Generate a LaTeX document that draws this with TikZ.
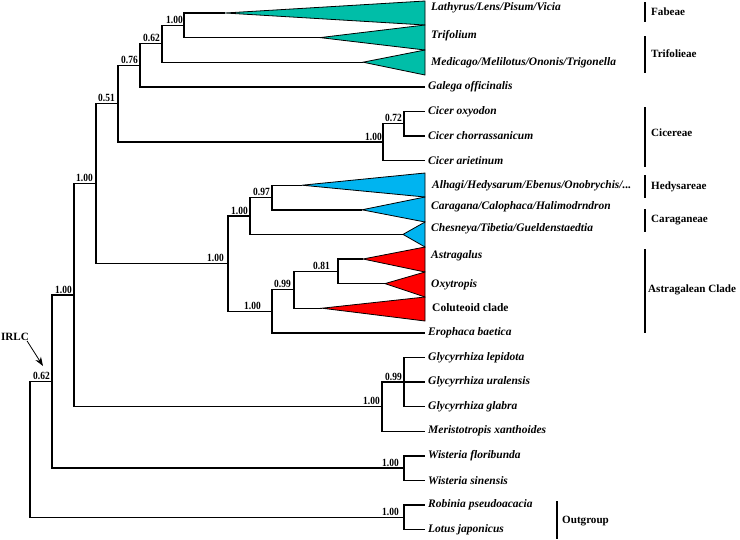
\documentclass[tikz,border=0pt]{standalone}
\usepackage{fontspec}
\setmainfont{Liberation Serif}
\newfontfamily\bootfont[FakeStretch=0.86]{Liberation Serif}
\usetikzlibrary{arrows.meta}
\definecolor{tealc}{RGB}{0,190,168}
\definecolor{bluec}{RGB}{0,180,240}
\definecolor{redc}{RGB}{255,0,0}
\begin{document}
\begin{tikzpicture}[x=1pt,y=-1pt,
  br/.style={line width=1.4pt},
  tri/.style={draw=black,line width=0.8pt,line join=miter},
  leaf/.style={anchor=west,inner sep=0pt,font=\fontsize{11.5}{13}\selectfont\bfseries\itshape},
  leafup/.style={anchor=west,inner sep=0pt,font=\fontsize{11.5}{13}\selectfont\bfseries},
  boot/.style={anchor=south east,inner sep=0pt,font=\bootfont\fontsize{11}{12}\selectfont\bfseries},
  clade/.style={anchor=west,inner sep=0pt,font=\fontsize{11.1}{13}\selectfont\bfseries},
  bar/.style={line width=1.8pt}]
\useasboundingbox (0,0) rectangle (740,539);
% internal nodes
\coordinate (root) at (30,450);
\coordinate (n52) at (52,381.6);
\coordinate (n74) at (74,295.1);
\coordinate (n96) at (96,183.65);
\coordinate (n118) at (118,103.7);
\coordinate (n140) at (140,65.3);
\coordinate (n162) at (162,43.75);
\coordinate (n184) at (184,25.3);
\coordinate (cic) at (383,142.15);
\coordinate (n404c) at (404,123.7);
\coordinate (n228) at (228,263.6);
\coordinate (n250) at (250,216);
\coordinate (n272h) at (272,197.5);
\coordinate (n272) at (272,311.3);
\coordinate (n294) at (294,289.75);
\coordinate (n338) at (338,271.3);
\coordinate (glyc) at (382,406.6);
\coordinate (n404g) at (404,382);
\coordinate (wist) at (404,468.1);
\coordinate (outg) at (404,517.3);
% triangle apices
\coordinate (afab) at (225,13);
\coordinate (atri) at (320,37.6);
\coordinate (amed) at (363,62.2);
\coordinate (ahed) at (302,185.2);
\coordinate (acar) at (362,209.8);
\coordinate (ache) at (403,234.4);
\coordinate (aast) at (363,259);
\coordinate (aoxy) at (385,283.6);
\coordinate (acol) at (322,308.2);
% triangle right corners
\coordinate (r0) at (425,1);
\coordinate (r1) at (425,25);
\coordinate (r2) at (425,50);
\coordinate (r3) at (425,75);
\coordinate (r4) at (425,173);
\coordinate (r5) at (425,197);
\coordinate (r6) at (425,222);
\coordinate (r7) at (425,247);
\coordinate (r8) at (425,272);
\coordinate (r9) at (425,297);
\coordinate (r10) at (425,321);
% leaf tips
\coordinate (lgal) at (425,86.8);
\coordinate (loxy) at (425,111.4);
\coordinate (lcho) at (425,136);
\coordinate (lari) at (425,160.6);
\coordinate (lero) at (425,332.8);
\coordinate (llep) at (425,357.4);
\coordinate (lura) at (425,382);
\coordinate (lgla) at (425,406.6);
\coordinate (lmer) at (425,431.2);
\coordinate (lflo) at (425,455.8);
\coordinate (lsin) at (425,480.4);
\coordinate (lrob) at (425,505);
\coordinate (llot) at (425,529.6);
% triangles
\filldraw[tri,fill=tealc] (afab) -- (r0) -- (r1) -- cycle;
\filldraw[tri,fill=tealc] (atri) -- (r1) -- (r2) -- cycle;
\filldraw[tri,fill=tealc] (amed) -- (r2) -- (r3) -- cycle;
\filldraw[tri,fill=bluec] (ahed) -- (r4) -- (r5) -- cycle;
\filldraw[tri,fill=bluec] (acar) -- (r5) -- (r6) -- cycle;
\filldraw[tri,fill=bluec] (ache) -- (r6) -- (r7) -- cycle;
\filldraw[tri,fill=redc] (aast) -- (r7) -- (r8) -- cycle;
\filldraw[tri,fill=redc] (aoxy) -- (r8) -- (r9) -- cycle;
\filldraw[tri,fill=redc] (acol) -- (r9) -- (r10) -- cycle;
% branches
\draw[br] (root) |- (n52);
\draw[br] (root) |- (outg);
\draw[br] (n52) |- (n74);
\draw[br] (n52) |- (wist);
\draw[br] (n74) |- (n96);
\draw[br] (n74) |- (glyc);
\draw[br] (n96) |- (n118);
\draw[br] (n96) |- (n228);
\draw[br] (n118) |- (n140);
\draw[br] (n118) |- (cic);
\draw[br] (n140) |- (n162);
\draw[br] (n140) |- (lgal);
\draw[br] (n162) |- (n184);
\draw[br] (n162) |- (amed);
\draw[br] (n184) |- (afab);
\draw[br] (n184) |- (atri);
\draw[br] (cic) |- (n404c);
\draw[br] (cic) |- (lari);
\draw[br] (n404c) |- (loxy);
\draw[br] (n404c) |- (lcho);
\draw[br] (n228) |- (n250);
\draw[br] (n228) |- (n272);
\draw[br] (n250) |- (n272h);
\draw[br] (n250) |- (ache);
\draw[br] (n272h) |- (ahed);
\draw[br] (n272h) |- (acar);
\draw[br] (n272) |- (n294);
\draw[br] (n272) |- (lero);
\draw[br] (n294) |- (n338);
\draw[br] (n294) |- (acol);
\draw[br] (n338) |- (aast);
\draw[br] (n338) |- (aoxy);
\draw[br] (glyc) |- (n404g);
\draw[br] (glyc) |- (lmer);
\draw[br] (n404g) |- (llep);
\draw[br] (n404g) |- (lura);
\draw[br] (n404g) |- (lgla);
\draw[br] (wist) |- (lflo);
\draw[br] (wist) |- (lsin);
\draw[br] (outg) |- (lrob);
\draw[br] (outg) |- (llot);
% support values
\node[boot] (b52) at ([xshift=-2pt,yshift=1.5pt]n52) {0.62};
\node[boot] (b74) at ([xshift=-2pt,yshift=1.5pt]n74) {1.00};
\node[boot] (b96) at ([xshift=-3pt,yshift=1.5pt]n96) {1.00};
\node[boot] (b118) at ([xshift=-3pt,yshift=1.5pt]n118) {0.51};
\node[boot] (b140) at ([xshift=-2pt,yshift=1.5pt]n140) {0.76};
\node[boot] (b162) at ([xshift=-2pt,yshift=1.5pt]n162) {0.62};
\node[boot] (b184) at ([xshift=-1pt,yshift=1.5pt]n184) {1.00};
\node[boot] (bcic) at ([xshift=-1pt,yshift=1.5pt]cic) {1.00};
\node[boot] (b404c) at ([xshift=-2pt,yshift=1.5pt]n404c) {0.72};
\node[boot] (b228) at ([xshift=-4pt,yshift=1.5pt]n228) {1.00};
\node[boot] (b250) at ([xshift=-2pt,yshift=1.5pt]n250) {1.00};
\node[boot] (b272h) at ([xshift=-2pt,yshift=1.5pt]n272h) {0.97};
\node[boot] (b272) at ([xshift=-11pt,yshift=1.5pt]n272) {1.00};
\node[boot] (b294) at ([xshift=-3pt,yshift=1.5pt]n294) {0.99};
\node[boot] (b338) at ([xshift=-8pt,yshift=1.5pt]n338) {0.81};
\node[boot] (bglyc) at ([xshift=-2pt,yshift=1.5pt]glyc) {1.00};
\node[boot] (b404g) at ([xshift=-2pt,yshift=1.5pt]n404g) {0.99};
\node[boot] (bwist) at ([xshift=-5pt,yshift=1.5pt]wist) {1.00};
\node[boot] (boutg) at ([xshift=-5pt,yshift=1.5pt]outg) {1.00};
% leaf labels
\node[leaf] (tfab) at (431,8) {Lathyrus/Lens/Pisum/Vicia};
\node[leaf] (ttri) at (431,36) {Trifolium};
\node[leaf] (tmed) at (431,63) {Medicago/Melilotus/Ononis/Trigonella};
\node[leaf] (tgal) at (428,86.8) {Galega officinalis};
\node[leaf] (toxy) at (428,111.4) {Cicer oxyodon};
\node[leaf] (tcho) at (428,136) {Cicer chorrassanicum};
\node[leaf] (tari) at (428,160.6) {Cicer arietinum};
\node[leaf] (thed) at (432,186) {Alhagi/Hedysarum/Ebenus/Onobrychis/...};
\node[leaf] (tcar) at (431,206.5) {Caragana/Calophaca/Halimodrndron};
\node[leaf] (tche) at (431,228.5) {Chesneya/Tibetia/Gueldenstaedtia};
\node[leaf] (tast) at (431,256) {Astragalus};
\node[leaf] (toxt) at (431,284.5) {Oxytropis};
\node[leafup] (tcol) at (432,308) {Coluteoid clade};
\node[leaf] (tero) at (428,332.8) {Erophaca baetica};
\node[leaf] (tlep) at (428,357.4) {Glycyrrhiza lepidota};
\node[leaf] (tura) at (428,382) {Glycyrrhiza uralensis};
\node[leaf] (tgla) at (428,406.6) {Glycyrrhiza glabra};
\node[leaf] (tmer) at (428,431.2) {Meristotropis xanthoides};
\node[leaf] (tflo) at (428,455.8) {Wisteria floribunda};
\node[leaf] (tsin) at (428,480.4) {Wisteria sinensis};
\node[leaf] (trob) at (428,505) {Robinia pseudoacacia};
\node[leaf] (tlot) at (428,529.6) {Lotus japonicus};
% clade bars and labels
\draw[bar] (645,2) -- (645,22);
\node[clade] (cfab) at (651,12) {Fabeae};
\draw[bar] (645,36) -- (645,73);
\node[clade] (ctri) at (651,54) {Trifolieae};
\draw[bar] (645,107) -- (645,167);
\node[clade] (ccic) at (651,133) {Cicereae};
\draw[bar] (645,175) -- (645,198);
\node[clade] (ched) at (651,187) {Hedysareae};
\draw[bar] (645,209) -- (645,232);
\node[clade] (ccar) at (651,220) {Caraganeae};
\draw[bar] (645,249) -- (645,333);
\node[clade] (cast) at (648,290) {Astragalean Clade};
\draw[bar] (557,501) -- (557,539);
\node[clade] (cout) at (562,521) {Outgroup};
% IRLC
\node[clade,anchor=center] (irlc) at (15,337) {IRLC};
\coordinate (irlctip) at (43,366);
\draw[line width=0.8pt,-{Stealth[length=9pt,width=6.5pt]}] ([xshift=-2pt]irlc.south east) -- (irlctip);
\end{tikzpicture}
\end{document}
